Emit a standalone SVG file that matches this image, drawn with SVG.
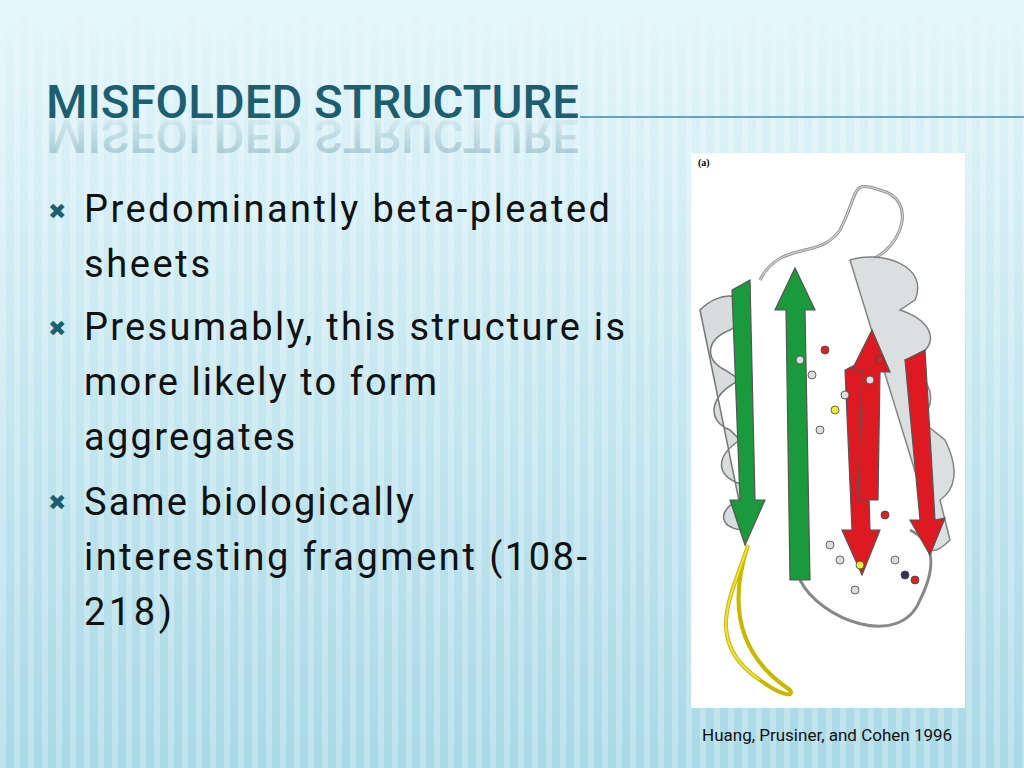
<svg xmlns="http://www.w3.org/2000/svg" width="1024" height="768" viewBox="0 0 1024 768">
<defs>
<linearGradient id="bg" x1="0" y1="0" x2="0" y2="1"><stop offset="0" stop-color="#e3f6fa"/><stop offset="1" stop-color="#a9d9e6"/></linearGradient>
<pattern id="st" width="14" height="768" patternUnits="userSpaceOnUse"><rect width="6" height="768" fill="#ffffff" opacity="0.25"/></pattern>
<linearGradient id="fade" x1="0" y1="0" x2="0" y2="1"><stop offset="0" stop-color="#e3f6fa" stop-opacity="1"/><stop offset="0.12" stop-color="#e3f6fa" stop-opacity="0"/></linearGradient>
<linearGradient id="refl" x1="0" y1="0" x2="0" y2="1"><stop offset="0" stop-color="#1d5f70" stop-opacity="0.3"/><stop offset="1" stop-color="#1d5f70" stop-opacity="0"/></linearGradient>
</defs>
<style>
.b{font-family:Roboto,"Liberation Sans",sans-serif;font-size:38px;fill:#111}
.m{font-family:"DejaVu Sans",sans-serif;font-size:22px;font-weight:bold;fill:#1d5f70}
.g{fill:#d8dcdc;stroke:#777;stroke-width:1.5}
</style>
<rect width="1024" height="768" fill="url(#bg)"/>
<rect width="1024" height="768" fill="url(#st)"/>
<rect width="1024" height="768" fill="url(#fade)"/>
<text x="46" y="118" font-family="Roboto,Liberation Sans,sans-serif" font-weight="500" font-size="46" fill="#1d5f70" textLength="533" lengthAdjust="spacingAndGlyphs">MISFOLDED STRUCTURE</text>
<text x="46" y="-120" transform="scale(1,-1)" font-family="Roboto,Liberation Sans,sans-serif" font-weight="500" font-size="46" fill="url(#refl)" textLength="533" lengthAdjust="spacingAndGlyphs">MISFOLDED STRUCTURE</text>
<line x1="580" y1="117" x2="1024" y2="117" stroke="#3a88b8" stroke-width="1.5"/>
<text class="m" x="48" y="219">✖</text>
<text class="b" x="84" y="222" textLength="526">Predominantly beta-pleated</text>
<text class="b" x="84" y="277" textLength="126">sheets</text>
<text class="m" x="48" y="336">✖</text>
<text class="b" x="84" y="340" textLength="541">Presumably, this structure is</text>
<text class="b" x="84" y="395" textLength="353">more likely to form</text>
<text class="b" x="84" y="450" textLength="211">aggregates</text>
<text class="m" x="48" y="510">✖</text>
<text class="b" x="84" y="515" textLength="330">Same biologically</text>
<text class="b" x="84" y="570" textLength="503">interesting fragment (108-</text>
<text class="b" x="84" y="625" textLength="88">218)</text>
<rect x="691" y="153" width="274" height="555" fill="#fff"/>
<text x="698" y="166" font-family="Liberation Serif,serif" font-size="10" font-weight="bold">(a)</text>
<g fill="none" stroke="#888" stroke-width="3">
<path d="M760 280 C 780 240, 820 260, 840 230 C 860 190, 850 180, 880 190 C 920 200, 900 250, 870 260"/>
<path d="M800 580 C 820 620, 900 650, 920 600 C 940 560, 930 540, 910 530"/>
</g>
<path d="M760 280 C 780 240, 820 260, 840 230 C 860 190, 850 180, 880 190 C 920 200, 900 250, 870 260" fill="none" stroke="#ccc" stroke-width="1.5"/>
<path class="g" d="M700 310 C 720 290, 750 290, 745 320 L 730 330 C 705 340, 705 360, 725 370 L 740 380 C 710 395, 705 420, 730 430 L 740 440 C 710 460, 720 480, 745 485 L 740 500 C 715 510, 720 530, 745 530 Z"/>
<path class="g" d="M850 260 C 880 250, 930 265, 915 300 L 900 310 C 930 320, 940 340, 920 355 L 905 360 C 930 380, 940 400, 920 420 L 945 440 C 960 470, 955 490, 940 500 L 950 540 C 930 560, 920 550, 930 520 Z" opacity="0.9"/>
<path d="M732 290 L 750 280 L 755 500 L 765 500 L 745 545 L 730 500 L 740 500 Z" fill="#1a9a3c" stroke="#555" stroke-width="1.2"/>
<path d="M790 580 L 786 310 L 775 310 L 795 268 L 815 310 L 805 310 L 810 580 Z" fill="#1a9a3c" stroke="#555" stroke-width="1.2"/>
<path d="M845 370 L 852 530 L 842 530 L 862 575 L 880 530 L 870 530 L 865 360 Z" fill="#dd1a22" stroke="#555" stroke-width="1.2"/>
<path d="M858 500 L 862 370 L 852 370 L 872 330 L 890 372 L 880 372 L 878 500 Z" fill="#dd1a22" stroke="#555" stroke-width="1.2"/>
<path d="M905 360 L 920 520 L 910 520 L 930 555 L 945 518 L 935 520 L 925 350 Z" fill="#dd1a22" stroke="#555" stroke-width="1.2"/>
<path d="M748 545 C 735 590, 700 640, 760 680 C 780 695, 795 698, 790 690 C 760 670, 720 630, 748 545" fill="none" stroke="#c8b800" stroke-width="4"/>
<path d="M748 545 C 735 590, 700 640, 760 680" fill="none" stroke="#f0e040" stroke-width="2"/>
<g fill="#ddd" stroke="#444" stroke-width="0.8">
<circle cx="800" cy="360" r="4"/><circle cx="812" cy="375" r="4"/><circle cx="825" cy="350" r="4" fill="#d22"/><circle cx="835" cy="410" r="4" fill="#ee3"/><circle cx="845" cy="395" r="4"/><circle cx="820" cy="430" r="4"/><circle cx="880" cy="360" r="4" fill="#d22"/><circle cx="870" cy="380" r="4"/><circle cx="860" cy="565" r="4" fill="#ee3"/><circle cx="840" cy="560" r="4"/><circle cx="905" cy="575" r="4" fill="#335"/><circle cx="885" cy="515" r="4" fill="#d22"/><circle cx="830" cy="545" r="4"/><circle cx="855" cy="590" r="4"/><circle cx="895" cy="560" r="4"/><circle cx="915" cy="580" r="4" fill="#d22"/>
</g>
<text x="702" y="741" font-family="Roboto,Liberation Sans,sans-serif" font-size="17" fill="#111">Huang, Prusiner, and Cohen 1996</text>
</svg>
